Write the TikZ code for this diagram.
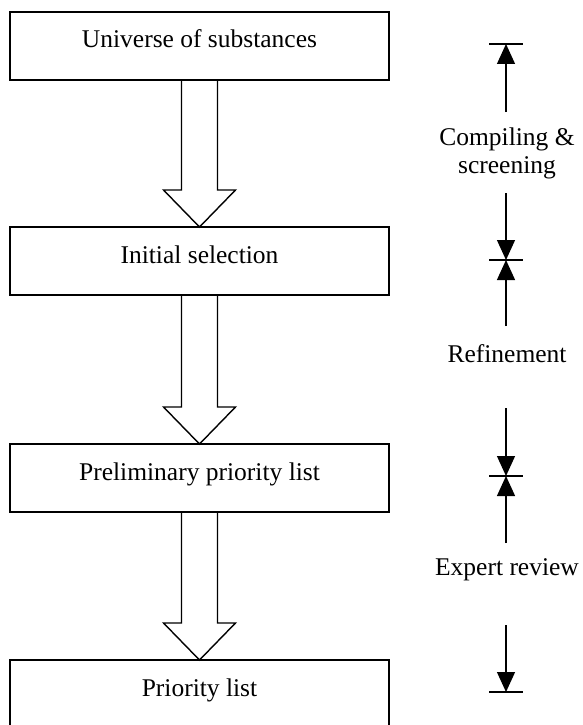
\documentclass[tikz,border=0pt]{standalone}
\usepackage{fontspec}
\setmainfont{Liberation Serif}
\usetikzlibrary{arrows.meta}

\tikzset{
  stagebox/.style={draw, line width=1.6pt, minimum width=379pt, minimum height=68pt,
    inner sep=0pt, outer sep=0pt, text height=22pt, text depth=18pt,
    font=\fontsize{25.5}{28}\selectfont},
  blockarrow/.style={draw, line width=1.4pt, line join=miter},
  phaselabel/.style={font=\fontsize{25.5}{28}\selectfont, align=center, inner sep=0pt},
  phaseline/.style={line width=1.3pt, -{Triangle[length=20pt,width=18pt]}},
  phasebar/.style={line width=1.6pt}
}

\begin{document}
\begin{tikzpicture}[x=1pt, y=-1pt]
  \useasboundingbox (0,0) rectangle (582,725);

  % stages of the selection process
  \node[stagebox] (s1) at (199.5,46)  {Universe of substances};
  \node[stagebox] (s2) at (199.5,261) {Initial selection};
  \node[stagebox] (s3) at (199.5,478) {Preliminary priority list};
  \node[stagebox] (s4) at (199.5,694) {Priority list};

  % hollow block arrows between consecutive stages
  \foreach \a/\b in {s1/s2, s2/s3, s3/s4}{
    \draw[blockarrow]
      ([xshift=-18pt]\a.south)
      -- ([xshift=-18pt,yshift=37pt]\b.north)
      -- ([xshift=-36pt,yshift=37pt]\b.north)
      -- (\b.north)
      -- ([xshift=36pt,yshift=37pt]\b.north)
      -- ([xshift=18pt,yshift=37pt]\b.north)
      -- ([xshift=18pt]\a.south);
  }

  % phase markers on the right
  \coordinate (bar1) at (506,44);
  \coordinate (bar2) at (506,260);
  \coordinate (bar3) at (506,476);
  \coordinate (bar4) at (506,692);

  \coordinate (p1b) at (506,112);
  \coordinate (p1e) at (506,193);
  \coordinate (p2b) at (506,326);
  \coordinate (p2e) at (506,408);
  \coordinate (p3b) at (506,543);
  \coordinate (p3e) at (506,625);

  \node[phaselabel] (ph1) at (507,153) {Compiling \&\\screening};
  \node[phaselabel, anchor=base] (ph2) at (507,362) {Refinement};
  \node[phaselabel, anchor=base] (ph3) at (507,575) {Expert review};

  \foreach \c in {bar1, bar2, bar3, bar4}{
    \draw[phasebar] ([xshift=-17pt]\c) -- ([xshift=17pt]\c);
  }

  \draw[phaseline] (p1b) -- (bar1);
  \draw[phaseline] (p1e) -- (bar2);
  \draw[phaseline] (p2b) -- (bar2);
  \draw[phaseline] (p2e) -- (bar3);
  \draw[phaseline] (p3b) -- (bar3);
  \draw[phaseline] (p3e) -- (bar4);
\end{tikzpicture}
\end{document}
